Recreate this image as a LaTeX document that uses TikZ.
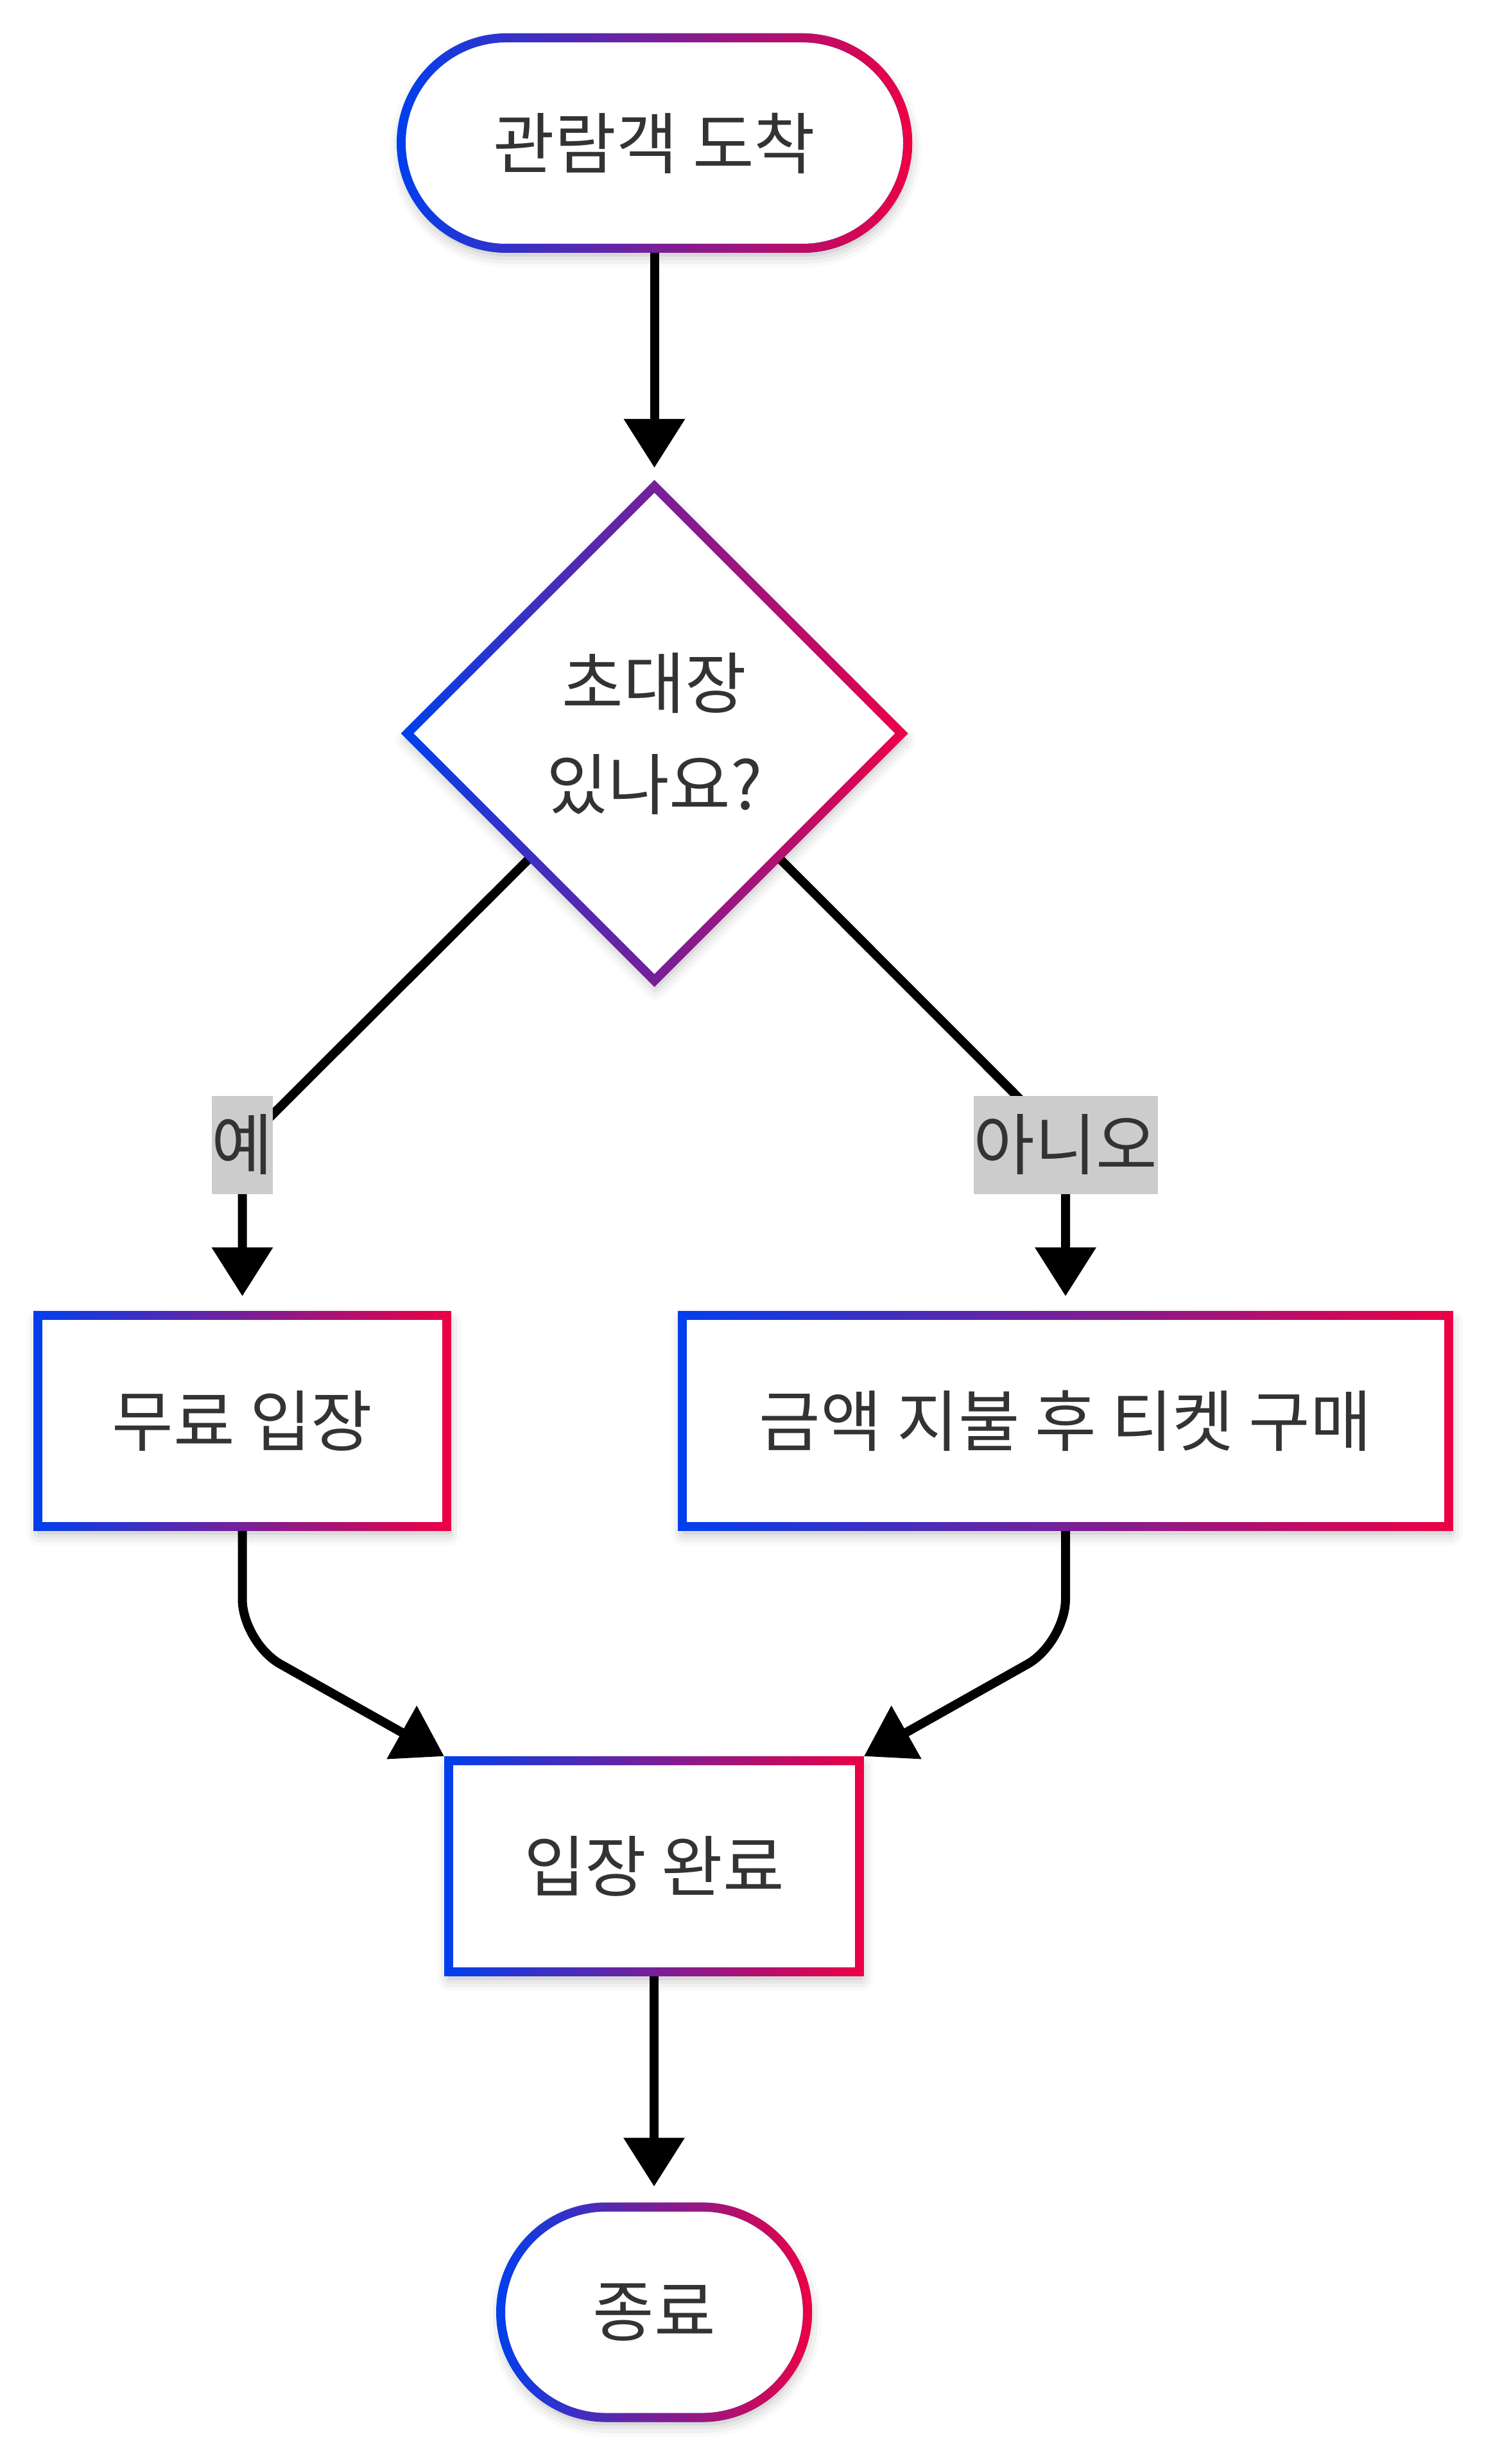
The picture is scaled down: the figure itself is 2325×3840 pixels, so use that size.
\documentclass[tikz,border=0pt]{standalone}
\usepackage{fontspec}
\setmainfont{Noto Sans CJK KR}
\usetikzlibrary{arrows.meta,shapes.geometric,shadows.blur,fadings}

\definecolor{gradL}{HTML}{0040EE}
\definecolor{gradR}{HTML}{EE0044}
\definecolor{txt}{HTML}{333333}
\definecolor{lblgray}{HTML}{CCCCCC}
\newcommand{\nodefont}{\fontsize{26pt}{39.5pt}\selectfont}

\tikzset{
    outline/.style={draw=gradL, fill=white, line width=3.5pt, text=txt, font=\nodefont,
        inner sep=0pt, align=center,
        postaction={draw=gradR, line width=3.5pt, path fading=west},
        blur shadow={shadow xshift=0.5pt, shadow yshift=-2.5pt, shadow blur radius=5pt, shadow opacity=30}},
    terminal/.style={outline, rectangle, rounded corners=41pt, minimum height=82pt},
    process/.style={outline, rectangle, minimum height=82.25pt},
    decision/.style={outline, diamond, aspect=1, minimum size=194pt},
    flow/.style={line width=3.5pt, -{Triangle[length=19pt,width=23pt]}},
    answer/.style={sharp corners, fill=lblgray, text=txt, font=\nodefont, inner xsep=0pt, inner ysep=0pt, minimum height=38.25pt}
}

\begin{document}
\begin{tikzpicture}[x=0.25pt,y=-0.25pt]
        \useasboundingbox (0,0) rectangle (2325,3840);

        \node[terminal, minimum width=197.25pt] (start) at (1019.5,223) {관람객 도착};
        \node[decision] (dec) at (1019.5,1143) {초대장\\있나요?};
        \node[process, minimum width=159.25pt] (free) at (377.5,2214.5) {무료 입장};
        \node[process, minimum width=298.5pt] (pay) at (1660,2214.5) {금액 지불 후 티켓 구매};
        \node[process, minimum width=160pt] (done) at (1019,2908.5) {입장 완료};
        \node[terminal, minimum width=119.5pt] (end) at (1019,3603.5) {종료};

        % bends of the connectors
        \coordinate (yesbend) at (377.5,1784);
        \coordinate (nobend) at (1660,1784);
        \coordinate (freebend) at (377.5,2560);
        \coordinate (paybend) at (1660,2560);

        \draw[flow, shorten >=4.75pt] (start) -- (dec);

        \draw[flow, rounded corners=15pt, shorten >=5.75pt] (dec.south west) -- (yesbend) node[answer] (yes) {예} -- (free.north);% yes branch
        \draw[flow, rounded corners=15pt, shorten >=5.75pt] (dec.south east) -- (nobend) node[answer] (no) {아니오} -- (pay.north);% no branch

        \draw[flow, rounded corners=17pt] (free.south) -- (freebend) -- (done.north west);
        \draw[flow, rounded corners=17pt] (pay.south) -- (paybend) -- (done.north east);

        \draw[flow, shorten >=6.25pt] (done) -- (end);

    \end{tikzpicture}
\end{document}
